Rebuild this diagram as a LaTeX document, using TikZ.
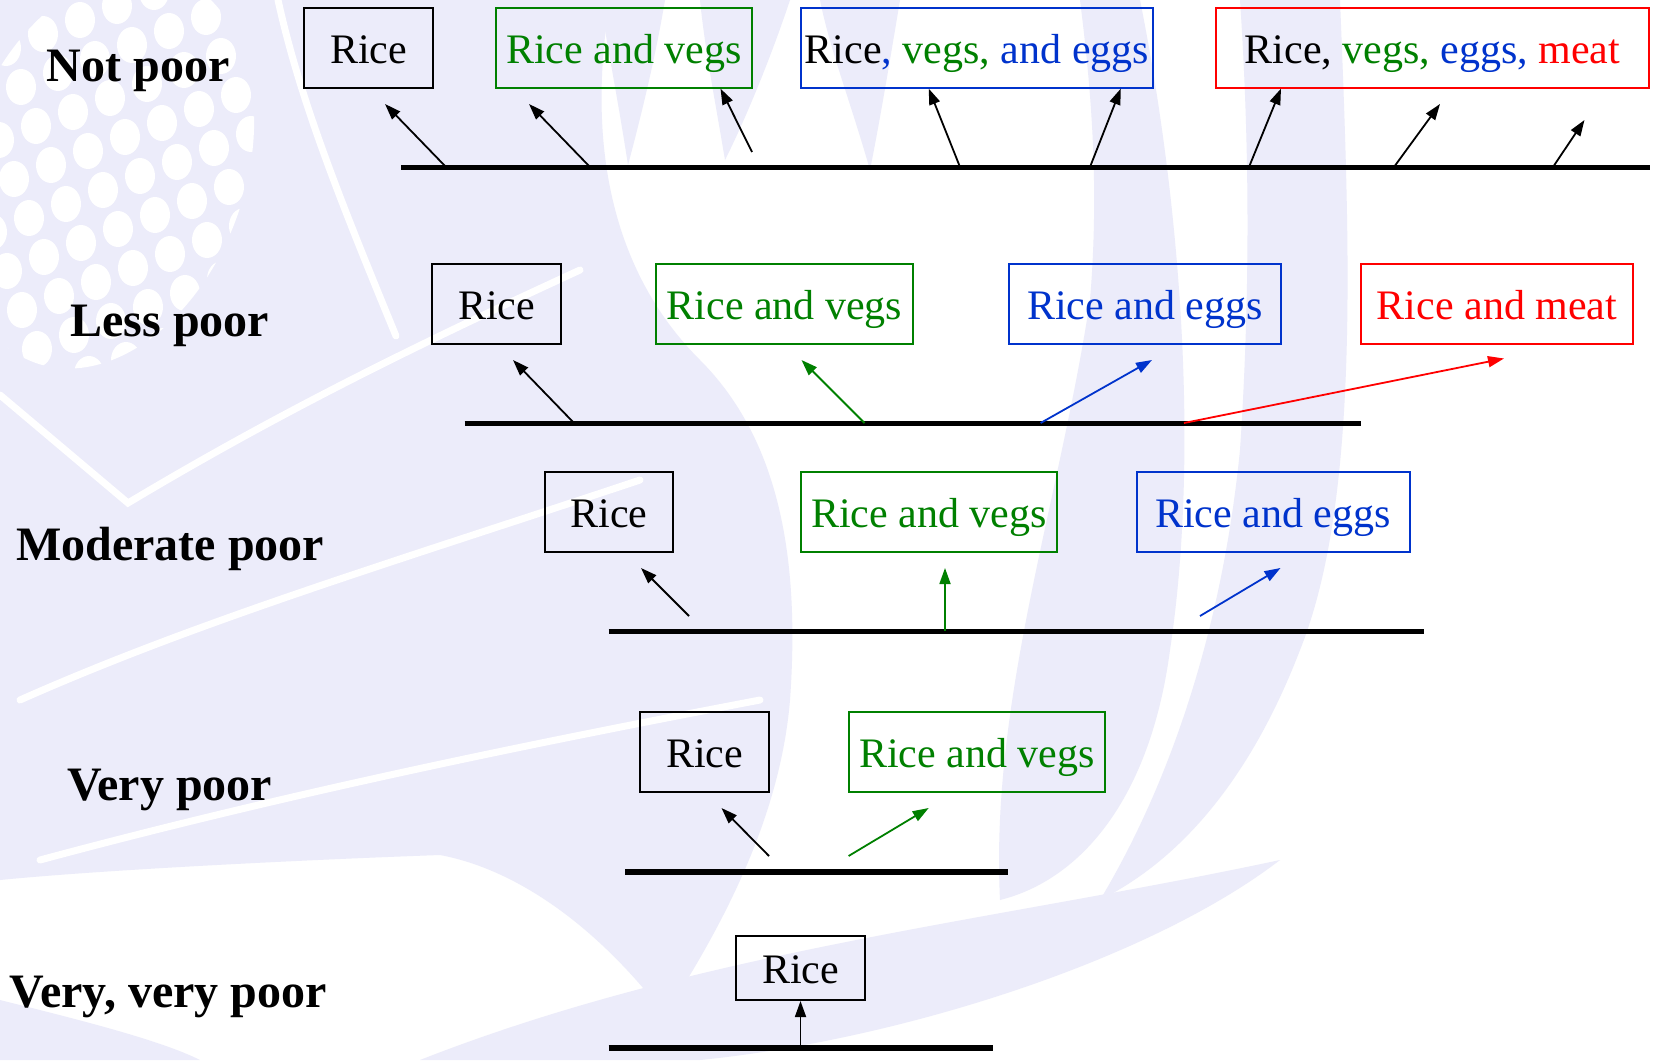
\documentclass[tikz,border=0pt]{standalone}
\usepackage{fontspec}
\setmainfont{Liberation Serif}
\usetikzlibrary{arrows.meta}

\definecolor{rgreen}{RGB}{0,128,0}
\definecolor{rblue}{RGB}{0,51,204}
\definecolor{rred}{RGB}{255,0,0}
\definecolor{wm}{RGB}{236,236,250}

\tikzset{
  lab/.style={anchor=base west, inner sep=0pt, font=\bfseries\fontsize{48}{56}\selectfont},
  box/.style={draw, line width=2pt, inner sep=0pt, minimum height=80pt,
              text height=33pt, text depth=2pt, font=\fontsize{42}{48}\selectfont},
  axis/.style={line width=5.5pt},
  arr/.style={line width=1.8pt, -{Triangle[length=16pt,width=11pt]}},
  vein/.style={white, line width=7pt, line cap=round},
}

\begin{document}
\begin{tikzpicture}[x=1pt, y=-1pt]
\useasboundingbox (0,0) rectangle (1662,1060);
\fill[white] (0,0) rectangle (1662,1060);

% ---------- pale emblem in the background ----------
% left leaf mass
\fill[wm] (0,0) -- (610,0) .. controls (590,120) and (600,260) .. (700,360)
  .. controls (780,440) and (800,560) .. (790,700)
  .. controls (780,820) and (720,930) .. (665,1015)
  .. controls (600,930) and (520,870) .. (440,855)
  .. controls (300,860) and (100,870) .. (0,880) -- cycle;
% slim stalks along the top
\fill[wm] (600,0) -- (665,0) .. controls (655,60) and (640,120) .. (628,165)
  .. controls (618,100) and (608,50) .. (600,0);
\fill[wm] (700,0) -- (790,0) .. controls (770,60) and (745,120) .. (725,160)
  .. controls (715,100) and (705,50) .. (700,0);
\fill[wm] (820,0) -- (900,0) .. controls (890,60) and (880,120) .. (870,170)
  .. controls (850,100) and (830,50) .. (820,0);
% right blades
\fill[wm] (1080,0) -- (1140,0) .. controls (1180,200) and (1200,450) .. (1170,650)
  .. controls (1150,800) and (1080,880) .. (1000,900)
  .. controls (990,700) and (1060,500) .. (1090,300)
  .. controls (1100,180) and (1090,80) .. (1080,0) -- cycle;
\fill[wm] (1240,0) -- (1340,0) .. controls (1350,250) and (1360,500) .. (1300,650)
  .. controls (1250,780) and (1180,860) .. (1100,900)
  .. controls (1160,800) and (1220,650) .. (1240,450)
  .. controls (1250,300) and (1250,150) .. (1240,0) -- cycle;
% lower sweeping band
\fill[wm] (420,1060) .. controls (700,950) and (1000,920) .. (1280,860)
  .. controls (1150,960) and (900,1040) .. (700,1060) -- cycle;
\fill[wm] (0,1000) .. controls (80,1020) and (160,1040) .. (200,1060) -- (0,1060) -- cycle;
% grain head
\begin{scope}
  \clip[rotate around={-20:(105,170)}] (105,170) ellipse (140 and 205);
  \foreach \i in {-6,...,9}{
    \foreach \j in {-8,...,7}{
      \fill[white] ({14+37*\i+15*\j},{179-14*\i+39*\j}) ellipse (15 and 18);
    }
  }
\end{scope}
% veins
\draw[vein] (20,700) .. controls (200,620) and (400,560) .. (640,480);
\draw[vein] (40,860) .. controls (300,790) and (550,740) .. (760,700);
\draw[vein] (0,395) -- (128,503) .. controls (300,400) and (450,330) .. (580,270);
\draw[vein] (396,336) .. controls (340,200) and (300,100) .. (278,0);

% ---------- row labels ----------
\node[lab] (l1) at (46.6,81) {Not poor};
\node[lab] (l2) at (70.4,336) {Less poor};
\node[lab] (l3) at (16,560.5) {Moderate poor};
\node[lab] (l4) at (67,800) {Very poor};
\node[lab] (l5) at (9.6,1007) {Very, very poor};

% ---------- boxes ----------
% not poor
\node[box, minimum width=129pt] (b11) at (368.5,48) {Rice};
\node[box, draw=rgreen, text=rgreen, minimum width=256pt] (b12) at (624,48) {Rice and vegs};
\node[box, draw=rblue, minimum width=352pt] (b13) at (977,48)
  {Rice\textcolor{rblue}{,} \textcolor{rgreen}{vegs,} \textcolor{rblue}{and eggs}};
\node[box, draw=rred, minimum width=433pt] (b14) at (1432.5,48)
  {Rice, \textcolor{rgreen}{vegs,} \textcolor{rblue}{eggs,} \textcolor{rred}{meat}};
% less poor
\node[box, minimum width=129pt] (b21) at (496.5,304) {Rice};
\node[box, draw=rgreen, text=rgreen, minimum width=257pt] (b22) at (784.5,304) {Rice and vegs};
\node[box, draw=rblue, text=rblue, minimum width=272pt] (b23) at (1145,304) {Rice and eggs};
\node[box, draw=rred, text=rred, minimum width=272pt] (b24) at (1497,304) {Rice and meat};
% moderate poor
\node[box, minimum width=128pt] (b31) at (609,512) {Rice};
\node[box, draw=rgreen, text=rgreen, minimum width=256pt] (b32) at (929,512) {Rice and vegs};
\node[box, draw=rblue, text=rblue, minimum width=273pt] (b33) at (1273,512) {Rice and eggs};
% very poor
\node[box, minimum width=129pt] (b41) at (704.5,752) {Rice};
\node[box, draw=rgreen, text=rgreen, minimum width=256pt] (b42) at (977,752) {Rice and vegs};
% very, very poor
\node[box, minimum width=129pt, minimum height=64pt] (b51) at (800.5,968) {Rice};

% ---------- base lines ----------
\coordinate (h1a) at (401,167.5);  \coordinate (h1b) at (1650,167.5);
\coordinate (h2a) at (464.5,423.5); \coordinate (h2b) at (1360.6,423.5);
\coordinate (h3a) at (608.5,631.5); \coordinate (h3b) at (1424,631.5);
\coordinate (h4a) at (625,872);    \coordinate (h4b) at (1008,872);
\coordinate (h5a) at (608.5,1048); \coordinate (h5b) at (993,1048);
\foreach \k in {1,...,5} \draw[axis] (h\k a) -- (h\k b);

% ---------- arrows ----------
% not poor
\coordinate (s11) at (446,167);    \coordinate (t11) at (385,104);
\coordinate (s12) at (590,167);    \coordinate (t12) at (529,104);
\coordinate (s13) at (752,152);    \coordinate (t13) at (720.5,88.6);
\coordinate (s14) at (960,167);    \coordinate (t14) at (928.7,88.6);
\coordinate (s15) at (1090,167);   \coordinate (t15) at (1120.8,88.6);
\coordinate (s16) at (1249,167);   \coordinate (t16) at (1281,88.6);
\coordinate (s17) at (1394,167);   \coordinate (t17) at (1440,104);
\coordinate (s18) at (1553,167);   \coordinate (t18) at (1584.5,120);
\foreach \k in {1,...,8} \draw[arr] (s1\k) -- (t1\k);
% less poor
\coordinate (s21) at (574,423);    \coordinate (t21) at (513,360);
\coordinate (s22) at (864.5,423);  \coordinate (t22) at (801.5,360);
\coordinate (s23) at (1040.6,423); \coordinate (t23) at (1152,360);
\coordinate (s24) at (1184,423);   \coordinate (t24) at (1504,358.5);
\draw[arr] (s21) -- (t21);
\draw[arr, rgreen] (s22) -- (t22);
\draw[arr, rblue] (s23) -- (t23);
\draw[arr, rred] (s24) -- (t24);
% moderate poor
\coordinate (s31) at (689,616);    \coordinate (t31) at (641,568);
\coordinate (s32) at (945,631);    \coordinate (t32) at (945,568);
\coordinate (s33) at (1200,616);   \coordinate (t33) at (1280.5,568);
\draw[arr] (s31) -- (t31);
\draw[arr, rgreen] (s32) -- (t32);
\draw[arr, rblue] (s33) -- (t33);
% very poor
\coordinate (s41) at (769,856);    \coordinate (t41) at (721.5,808);
\coordinate (s42) at (848.6,856);  \coordinate (t42) at (928.7,808);
\draw[arr] (s41) -- (t41);
\draw[arr, rgreen] (s42) -- (t42);
% very, very poor
\coordinate (s51) at (800.5,1047);
\draw[arr] (s51) -- (b51.south);
\end{tikzpicture}
\end{document}
